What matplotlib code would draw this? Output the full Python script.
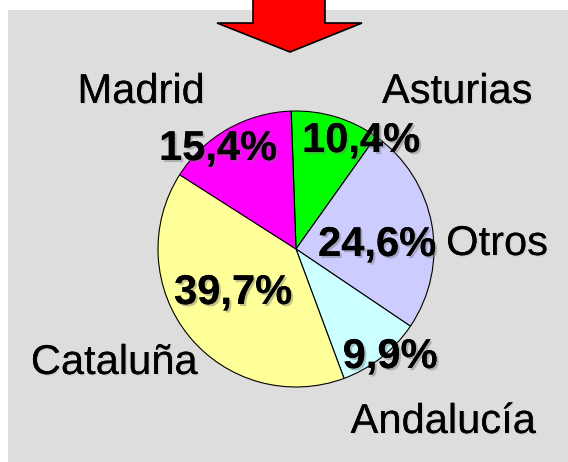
import matplotlib
matplotlib.use('Agg')
import matplotlib.pyplot as plt
from matplotlib.patches import Rectangle, Polygon
import matplotlib.patheffects as pe

# data, clockwise from the top
regions = ['Asturias', 'Otros', 'Andalucía', 'Cataluña', 'Madrid']
shares = [10.4, 24.6, 9.9, 39.7, 15.4]
colors = ['#00FF00', '#CCCCFF', '#CCFFFF', '#FFFF99', '#FF00FF']

# label placement in pixels (x centre, baseline y from top)
name_pos = [(457, 103), (497, 255), (443, 433), (114, 374), (141, 103)]
pct_pos = [(361, 152), (377, 256), (390, 368), (233, 304), (218, 160)]

W, H = 568, 462
fig = plt.figure(figsize=(W / 100, H / 100), dpi=100)
ax = fig.add_axes([0, 0, 1, 1])

# grey panel
ax.add_patch(Rectangle((8, 0), W - 8, H - 10, facecolor='#DDDDDD', edgecolor='none', zorder=0))

# red arrow at top
arrow_px = [(253, -5), (325, -5), (325, 23), (362, 23), (290, 52), (217, 23), (253, 23)]
ax.add_patch(Polygon([(x, H - y) for x, y in arrow_px], closed=True,
                     facecolor='#FF0000', edgecolor='black', lw=1.2, zorder=2))

ax.pie(shares, colors=colors, startangle=92, counterclock=False,
       center=(296, H - 249), radius=138, frame=True,
       wedgeprops=dict(edgecolor='black', linewidth=0.8))
ax.set_xlim(0, W)
ax.set_ylim(0, H)
ax.set_aspect('equal')
ax.axis('off')

shadow = [pe.withSimplePatchShadow(offset=(1.5, -1.5), shadow_rgbFace='#777777', alpha=0.45), pe.Normal()]
light_shadow = [pe.withSimplePatchShadow(offset=(1, -1), shadow_rgbFace='#AAAAAA', alpha=0.3), pe.Normal()]

for name, (x, y) in zip(regions, name_pos):
    ax.text(x, H - y, name, ha='center', va='baseline', fontsize=30,
            family='Liberation Sans', color='black', path_effects=light_shadow, zorder=5)

for val, (x, y) in zip(shares, pct_pos):
    label = f'{val:.1f}%'.replace('.', ',')
    ax.text(x, H - y, label, ha='center', va='baseline', fontsize=30, fontweight='bold',
            family='Liberation Sans', color='black', path_effects=shadow, zorder=6)

fig.savefig('out.png', dpi=100, facecolor='white')
